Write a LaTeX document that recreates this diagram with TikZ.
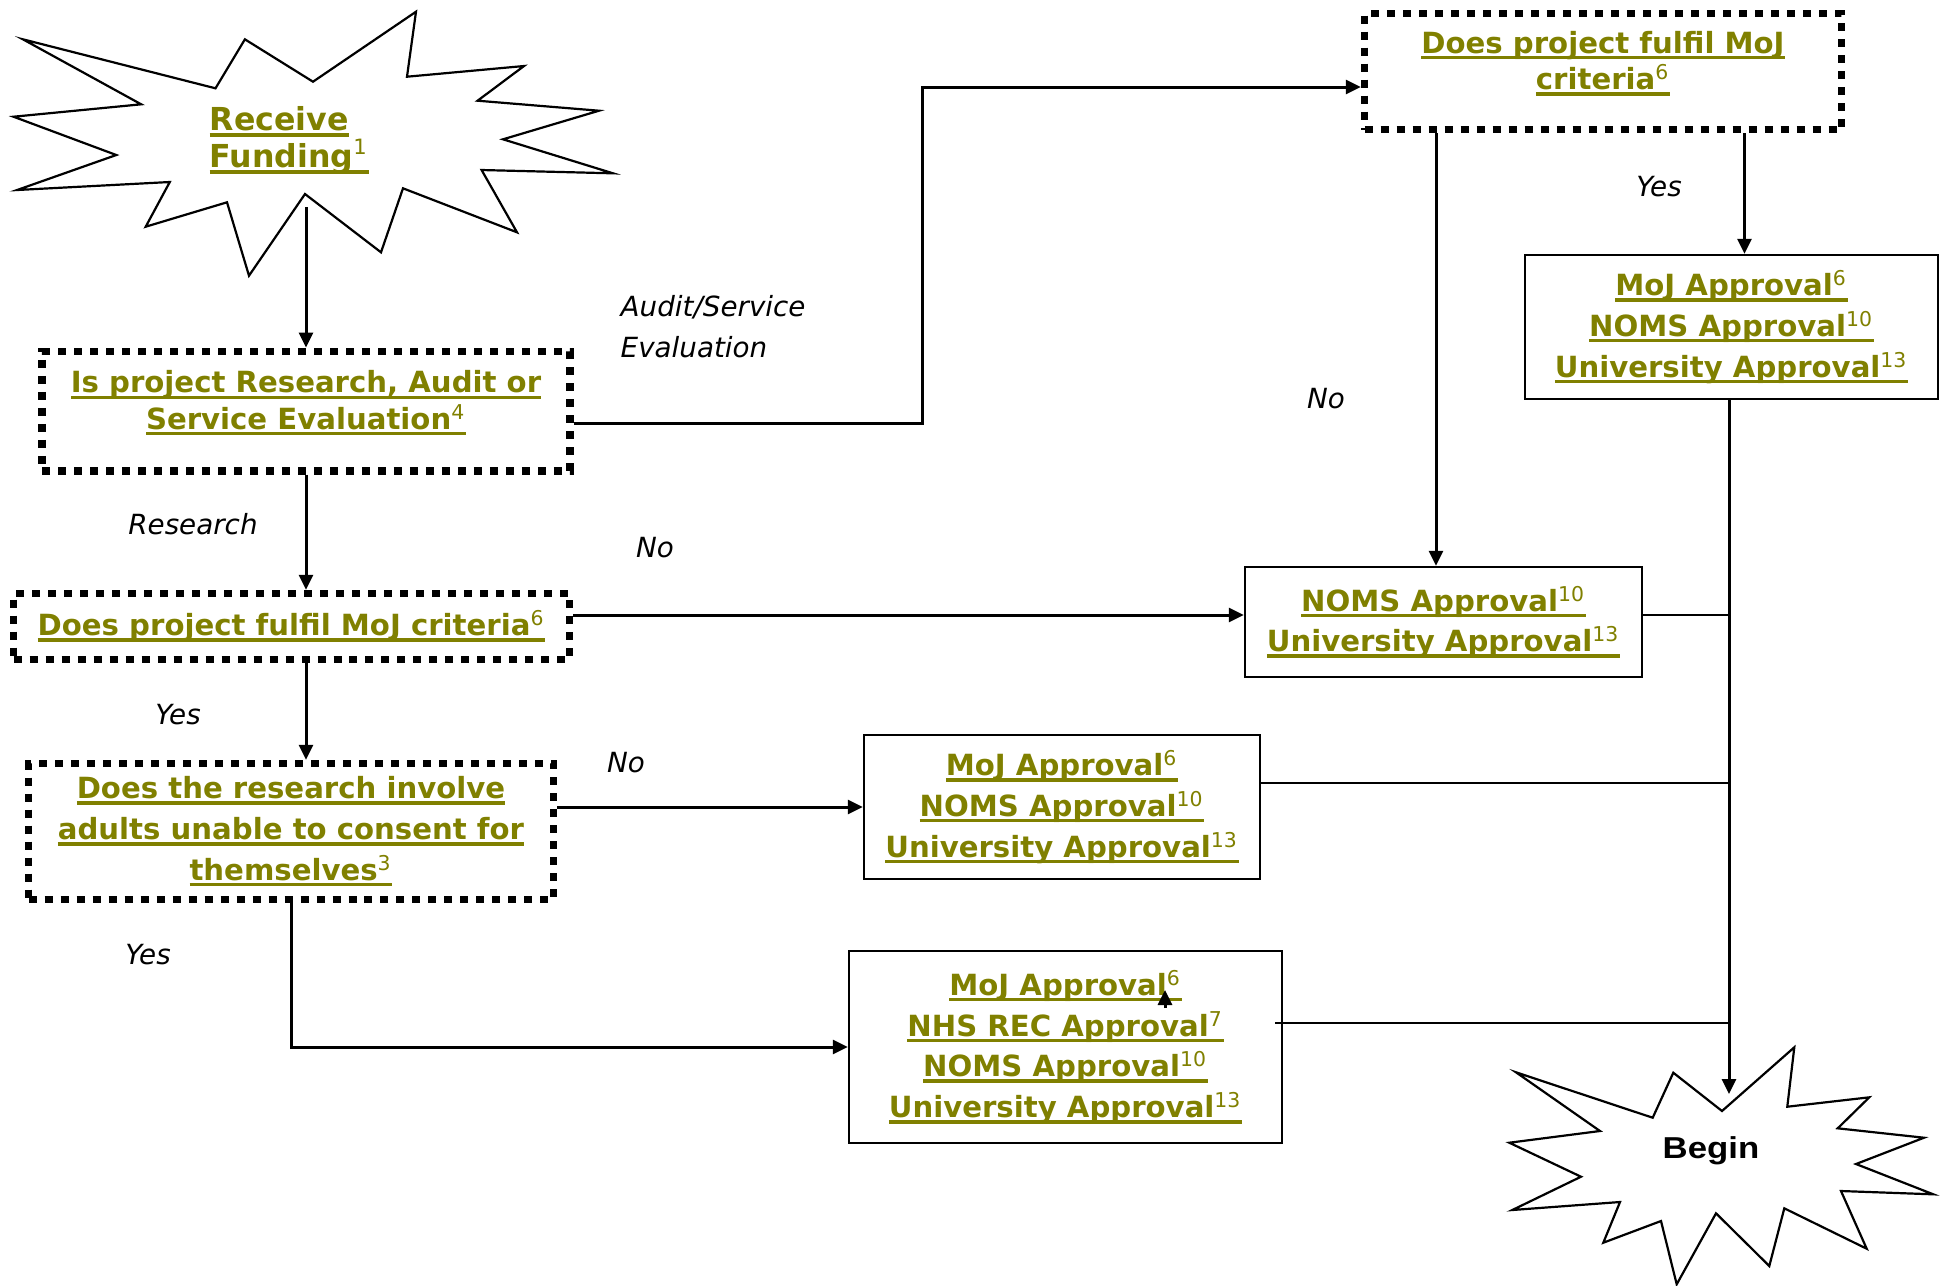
\documentclass[tikz,border=0pt]{standalone}
\usepackage{fontspec}
\setmainfont{DejaVu Sans}
\newfontfamily\beginfont[FakeStretch=1.15]{Liberation Sans}
\usepackage{tikz}
\usetikzlibrary{arrows.meta,positioning,calc}
\definecolor{linkolive}{RGB}{128,128,0}
\newsavebox\ulinkbox
\newcommand{\ulink}[1]{\sbox\ulinkbox{#1}\rlap{\rule[-0.6mm]{\wd\ulinkbox}{0.35mm}}\usebox\ulinkbox}
\newcommand{\fnref}[1]{\textsuperscript{\mdseries #1}}
\newcommand{\linkfont}{\fontsize{8.3}{11.6}\selectfont\bfseries}
\newcommand{\qfont}{\fontsize{8.3}{10.3}\selectfont\bfseries}
\newcommand{\annfont}{\fontsize{7.9}{11.6}\selectfont\itshape}

\begin{document}
\begin{tikzpicture}[x=0.1mm,y=-0.1mm,
  qbox/.style={draw,line width=0.75mm,dash pattern=on 0.8mm off 0.8mm,align=center,inner sep=0pt,font=\linkfont,text=linkolive},
  abox/.style={draw,line width=0.25mm,align=center,inner sep=0pt,font=\linkfont,text=linkolive},
  ann/.style={inner sep=0pt,font=\annfont},
  arr/.style={-{Triangle[length=1.5mm,width=1.4mm]},line width=0.3mm},
  feed/.style={line width=0.24mm},
  burst/.style={line width=0.22mm,line join=miter}
]
\useasboundingbox (0,0) rectangle (1943,1285);

\draw[burst] (22.9,39.3) -- (215.5,88.3) -- (244.9,39.3) -- (313,81.7) -- (416,11.7) -- (407,76.7)
  -- (524,66) -- (477.6,100.7) -- (599,110.7) -- (503,139.3) -- (613,173.3) -- (481.6,170)
  -- (517,232.3) -- (403,188.3) -- (381,252.3) -- (305,194) -- (249,275.7) -- (227,202.3)
  -- (145.7,226.7) -- (169.8,182) -- (17.1,190) -- (116.3,155) -- (13.5,116.7) -- (141.2,104.3) -- cycle;
\node[font={\fontsize{9}{10.5}\selectfont\bfseries},text=linkolive,align=left,anchor=west,inner sep=0pt] (fund) at (209,140.8)
  {\ulink{Receive}\\\ulink{Funding\fnref{1}}};

\draw[burst] (1516,1072.3) -- (1652.7,1117.7) -- (1673.3,1072.7) -- (1722,1111) -- (1794.3,1047.3) -- (1787.3,1106.7)
  -- (1869.3,1097.3) -- (1837.7,1128.3) -- (1924,1137.7) -- (1856,1164) -- (1933.3,1194.3) -- (1841,1191)
  -- (1866.7,1248.7) -- (1784.3,1208.3) -- (1769.3,1266) -- (1716,1213.3) -- (1676.7,1284.3) -- (1661,1221)
  -- (1603.3,1242.7) -- (1620,1202) -- (1512.3,1210) -- (1581,1176.7) -- (1509.3,1142.7) -- (1600,1131) -- cycle;
\node[font={\beginfont\bfseries\fontsize{8.6}{9}\selectfont},inner sep=0pt] (begin) at (1711,1151) {Begin};

\node[qbox,minimum width=52.8mm,minimum height=11.95mm,font=\qfont,text depth=2.2mm] (kind) at (306,411)
  {\ulink{Is project Research, Audit or}\\\ulink{Service Evaluation\fnref{4}}};
\node[qbox,minimum width=55.6mm,minimum height=6.6mm] (crit) at (291.5,626.5)
  {\ulink{Does project fulfil MoJ criteria\fnref{6}}};
\node[qbox,minimum width=52.5mm,minimum height=13.6mm] (consent) at (291,831.5)
  {\ulink{Does the research involve}\\\ulink{adults unable to consent for}\\\ulink{themselves\fnref{3}}};
\node[qbox,minimum width=47.7mm,minimum height=11.6mm,font=\qfont,text depth=2.2mm] (auditcrit) at (1603,71.5)
  {\ulink{Does project fulfil MoJ}\\\ulink{criteria\fnref{6}}};

\node[abox,minimum width=41.3mm,minimum height=14.4mm] (auditset) at (1731.5,327)
  {\ulink{MoJ Approval\fnref{6}}\\\ulink{NOMS Approval\fnref{10}}\\\ulink{University Approval\fnref{13}}};
\node[abox,minimum width=39.7mm,minimum height=11mm] (nomsuni) at (1443.5,622)
  {\ulink{NOMS Approval\fnref{10}}\\\ulink{University Approval\fnref{13}}};
\node[abox,minimum width=39.6mm,minimum height=14.4mm] (mojset) at (1062,807)
  {\ulink{MoJ Approval\fnref{6}}\\\ulink{NOMS Approval\fnref{10}}\\\ulink{University Approval\fnref{13}}};
\node[abox,minimum width=43.3mm,minimum height=19.2mm] (recset) at (1065.5,1047)
  {\ulink{MoJ Approval\fnref{6}}\\\ulink{NHS REC Approval\fnref{7}}\\\ulink{NOMS Approval\fnref{10}}\\\ulink{University Approval\fnref{13}}};

\node[ann] (lres) at (193,524) {Research};
\node[ann] (lyesa) at (178,715) {Yes};
\node[ann] (lyesb) at (148,955) {Yes};
\node[ann] (lnoa) at (655,548) {No};
\node[ann] (lnob) at (626,763) {No};
\node[ann,align=left,anchor=west] (laudit) at (620,327) {Audit/Service\\Evaluation};
\node[ann] (lnoc) at (1326,399) {No};
\node[ann] (lyesc) at (1659,187) {Yes};

\coordinate (fundtail) at (306,207);
\coordinate (begintip) at (1729,1094);
\coordinate (trunk) at (1729,0);
\coordinate (bendx) at (922,0);
\coordinate (colno) at (1436,0);
\coordinate (colyes) at (1744.5,0);
\coordinate (rowaudit) at (0,423);
\coordinate (rowtop) at (0,87);
\coordinate (rowno) at (0,615);
\coordinate (rowmoj) at (0,783);
\coordinate (rowrec) at (0,1023);
\coordinate (straytail) at (1165,1008);
\coordinate (straytip) at (1165,990);

\draw[arr] (fundtail) -- (kind.north);
\draw[arr] (kind.south) -- (kind.south |- crit.north);
\draw[arr] (kind.south |- crit.south) -- (kind.south |- consent.north);
\draw[arr] (kind.east |- rowaudit) -- (bendx |- rowaudit) -- (bendx |- rowtop) -- (auditcrit.west |- rowtop);
\draw[arr] (crit.east |- rowno) -- (nomsuni.west |- rowno);
\draw[arr] (consent.east |- mojset.west) -- (mojset.west);
\draw[arr] (consent.south) |- (recset.west);
\draw[arr] (auditcrit.south -| colno) -- (nomsuni.north -| colno);
\draw[arr] (auditcrit.south -| colyes) -- (auditset.north -| colyes);
\draw[arr] (auditset.south -| trunk) -- (begintip);
\draw[feed] (nomsuni.east |- rowno) -- (trunk |- rowno);
\draw[feed] (mojset.east |- rowmoj) -- (trunk |- rowmoj);
\draw[feed] ([xshift=-0.8mm]recset.east |- rowrec) -- (trunk |- rowrec);
\draw[arr] (straytail) -- (straytip);
\end{tikzpicture}
\end{document}
